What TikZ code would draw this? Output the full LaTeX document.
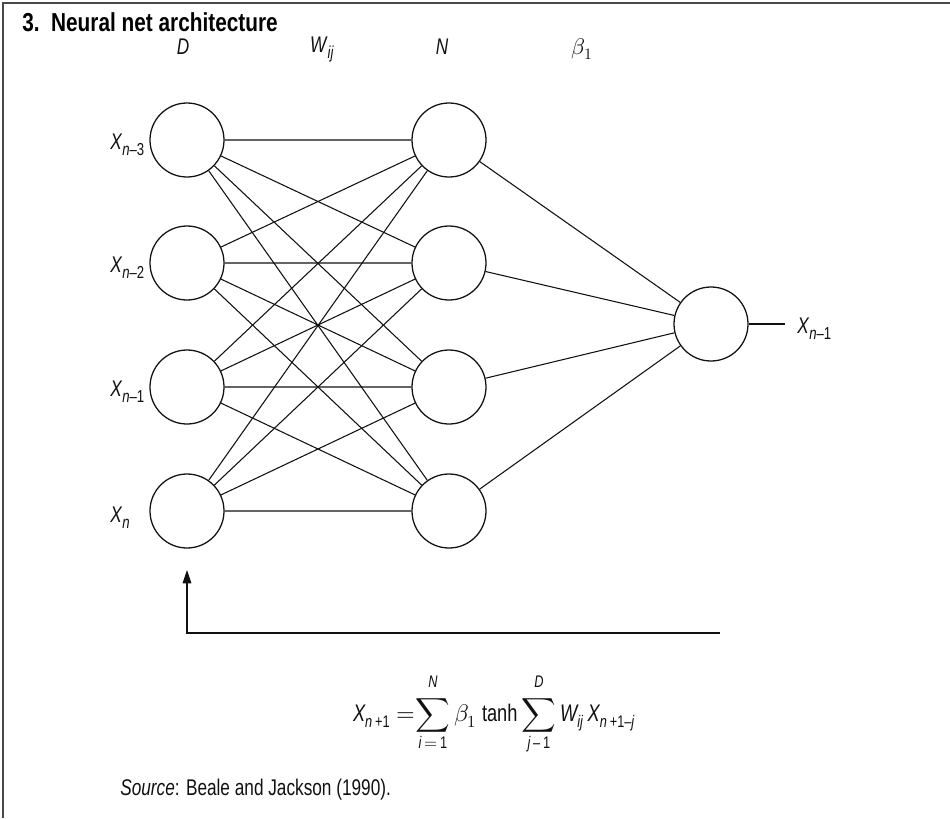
\documentclass[tikz,border=0pt]{standalone}
\usepackage{amsmath}
\usepackage{fontspec}
\usepackage{unicode-math}
\setmainfont{Liberation Sans}[FakeStretch=0.76]
\newfontfamily\headfont{Liberation Sans}[FakeStretch=0.8]
\setmathfont{Latin Modern Math}
\usetikzlibrary{arrows.meta, positioning, calc}
\definecolor{framegray}{HTML}{4A4A4A}
\definecolor{ink}{HTML}{111111}
\newcommand{\tv}[1]{\text{\itshape #1}}
\newcommand{\idx}[1]{\raisebox{-4.5pt}{\fontsize{13}{14}\selectfont #1}}

\begin{document}
\begin{tikzpicture}[x=0.75pt, y=-0.75pt,
  neuron/.style={circle, draw=ink, line width=0.95pt, minimum size=55.5pt, inner sep=0pt},
  link/.style={draw=ink, line width=0.8pt},
  var/.style={font=\fontsize{17}{20}\selectfont, inner sep=0pt, text=ink},
  title/.style={font=\headfont\fontsize{19.5}{23}\selectfont\bfseries, inner sep=0pt, anchor=base west},
]
  \useasboundingbox (0,0) rectangle (950,818);

  % Frame
  \draw[framegray, line width=1.5pt] (3,818) -- (3,3) -- (950,3);
  \node[title] (head) at (22,31) {3.\ \ Neural net architecture};

  % Layer labels
  \node[var] (ld) at (183,47) {\textit{D}};
  \node[var] (lw) at (322,49) {\textit{W}\idx{\textit{ij}}};
  \node[var] (ln) at (442,47) {\textit{N}};
  \node[var] (lb) at (582,49) {$\beta_1$};

  % Inputs
  \node[neuron] (in1) at (187,140) {};
  \node[neuron] (in2) at (187,263) {};
  \node[neuron] (in3) at (187,387) {};
  \node[neuron] (in4) at (187,511) {};
  \node[var, anchor=west] (x3) at (110,145) {\textit{X}\idx{\textit{n}–3}};
  \node[var, anchor=west] (x2) at (110,268) {\textit{X}\idx{\textit{n}–2}};
  \node[var, anchor=west] (x1) at (110,392) {\textit{X}\idx{\textit{n}–1}};
  \node[var, anchor=west] (x0) at (110,518) {\textit{X}\idx{\textit{n}}};

  % Hidden layer
  \node[neuron] (hid1) at (449,140) {};
  \node[neuron] (hid2) at (449,263) {};
  \node[neuron] (hid3) at (449,387) {};
  \node[neuron] (hid4) at (449,511) {};

  % Output
  \node[neuron] (out) at (711,324) {};
  \node[var, anchor=west] (xo) at (797,329) {\textit{X}\idx{\textit{n}–1}};

  % Weights
  \draw[link] (in1) -- (hid1) (in1) -- (hid2) (in1) -- (hid3) (in1) -- (hid4);
  \draw[link] (in2) -- (hid1) (in2) -- (hid2) (in2) -- (hid3) (in2) -- (hid4);
  \draw[link] (in3) -- (hid1) (in3) -- (hid2) (in3) -- (hid3) (in3) -- (hid4);
  \draw[link] (in4) -- (hid1) (in4) -- (hid2) (in4) -- (hid3) (in4) -- (hid4);
  \draw[link] (hid1) -- (out) (hid2) -- (out) (hid3) -- (out) (hid4) -- (out);
  \draw[link] (out) -- (out -| 785,0);

  % Feedback
  \coordinate (fb) at (720,633);
  \draw[link, -{Triangle[length=10pt, width=6.5pt]}, shorten >=16pt] (fb) -| (in4);

  % Formula and source
  \node[var, font=\fontsize{18}{21}\selectfont] (eq) at (494,714) {$\displaystyle \tv{X}_{\tv{n}\,\text{+1}}\;{=}\!\sum_{\rule{0pt}{9pt}\tv{i}\,=\,\text{1}}^{\tv{N}\rule[-5pt]{0pt}{0pt}} \beta_1\ \text{tanh} \sum_{\rule{0pt}{9pt}\tv{j}\,\text{–}\,\text{1}}^{\tv{D}\rule[-5pt]{0pt}{0pt}} \tv{W}_{\tv{ij}}\,\tv{X}_{\tv{n}\,\text{+1–}\tv{j}}$};
  \node[var, anchor=base west] (src) at (120,795) {\textit{Source}: Beale and Jackson (1990).};

\end{tikzpicture}
\end{document}
